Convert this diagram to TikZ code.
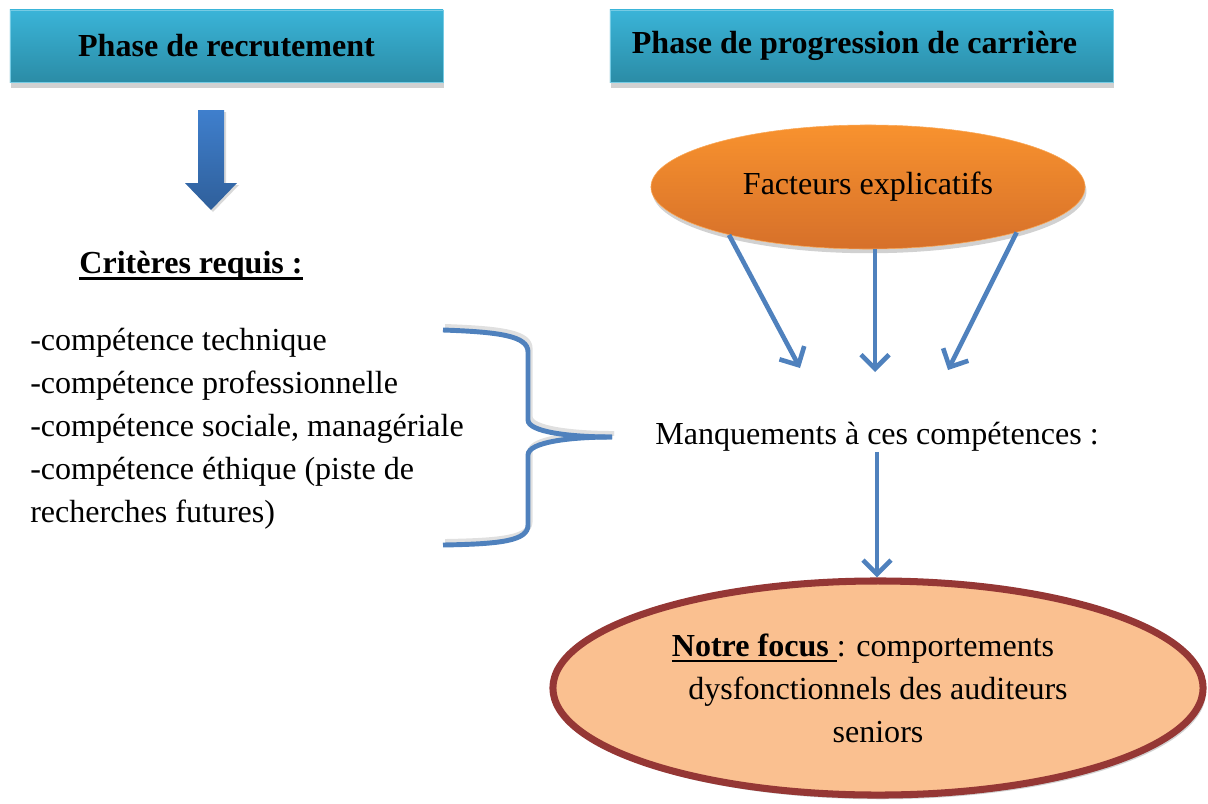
\documentclass[tikz,border=0pt]{standalone}
\usepackage{fontspec}
\setmainfont{Liberation Serif}
\usetikzlibrary{shapes.geometric, arrows.meta, shadows}
\definecolor{tealtop}{HTML}{3AB4D8}
\definecolor{tealbot}{HTML}{2B8CA6}
\definecolor{bluetop}{HTML}{3F7FCD}
\definecolor{bluebot}{HTML}{2F5F9A}
\definecolor{linkblue}{HTML}{4F81BD}
\definecolor{orgtop}{HTML}{F8922E}
\definecolor{orgbot}{HTML}{D6702A}
\definecolor{peach}{HTML}{FAC090}
\definecolor{brick}{HTML}{953735}
\newcommand\thickul[1]{\setbox0\hbox{#1}\rlap{\rule[-4.5pt]{\wd0}{2pt}}\box0}

\begin{document}
\begin{tikzpicture}[x = 0.025cm, y = -0.025cm,
	every node/.style = {font = \fontsize{22.8}{30.6}\selectfont, inner sep = 0pt},
	phase/.style = {draw = tealtop!70, top color = tealtop, bottom color = tealbot, minimum width = 10.825cm, minimum height = 1.8cm, font = \fontsize{22.8}{30.6}\selectfont\bfseries, drop shadow = {shadow xshift = 1pt, shadow yshift = -4pt, fill = black!18, opacity = 1}},
	oval/.style = {ellipse, draw = orgtop!80, top color = orgtop, bottom color = orgbot, minimum width = 10.85cm, minimum height = 3.1cm, drop shadow = {shadow xshift = 1pt, shadow yshift = -3pt, fill = black!18, opacity = 1}},
	arr/.style = {draw = linkblue, line width = 3.3pt, -{Straight Barb[length = 10pt, width = 20pt, line width = 3.3pt]}}]
	\useasboundingbox (0,0) rectangle (1208,803);

	% en-tetes
	\node[phase] (rec) at (226.5,46) {Phase de recrutement\\[-4pt]};
	\node[phase, minimum width = 12.575cm] (prog) at (861.5,46) {\hspace*{-0.35cm}Phase de progression de carri\`ere};

	% fleche bloc
	\fill[black!15] (200,112) -- (226,112) -- (226,185) -- (239,185) -- (213,212) -- (187,185) -- (200,185) -- cycle;
	\shade[top color = bluetop, bottom color = bluebot] (198,110) -- (224,110) -- (224,183) -- (237,183) -- (211,210) -- (185,183) -- (198,183) -- cycle;

	% partie gauche
	\node[font = \fontsize{22.8}{30.6}\selectfont\bfseries] (crit) at (191,266) {\thickul{Crit\`eres requis :}};
	\node[anchor = west, align = left] (list) at (30,429) {-comp\'etence technique\\-comp\'etence professionnelle\\-comp\'etence sociale, manag\'eriale\\-comp\'etence \'ethique (piste de\\recherches futures)};

	% partie droite
	\node[oval] (fact) at (868,187) {Facteurs explicatifs};
	\node (manq) at (877,437) {Manquements \`a ces comp\'etences :};
	\node[ellipse, draw = brick, line width = 5pt, fill = peach, minimum width = 16.25cm, minimum height = 5.35cm, align = center, drop shadow = {shadow xshift = 2pt, shadow yshift = -3pt, fill = black!18, opacity = 1}] (focus) at (878,688) {\thickul{\textbf{Notre focus }}: comportements\hspace*{0.75cm}\\dysfonctionnels des auditeurs\\seniors};

	\coordinate (ta) at (800,368);
	\coordinate (tb) at (875,372);
	\coordinate (tc) at (948,370);
	\coordinate (tip) at (612,437);

	% accolade
	\draw[black!12, line width = 3.5pt, xshift = 1.5, yshift = 2.5] (443,330) .. controls (500,332) and (528,336) .. (528,352) -- (528,420) .. controls (528,432) and (570,437) .. (612,437);
	\draw[black!12, line width = 3.5pt, xshift = 1.5, yshift = 2.5] (612,437) .. controls (570,437) and (528,442) .. (528,455) -- (528,525) .. controls (528,541) and (500,544) .. (443,545);
	\draw[linkblue, line width = 3.5pt] (443,330) .. controls (500,332) and (528,336) .. (528,352) -- (528,420) .. controls (528,432) and (570,437) .. (tip);
	\draw[linkblue, line width = 3.5pt] (tip) .. controls (570,437) and (528,442) .. (528,455) -- (528,525) .. controls (528,541) and (500,544) .. (443,545);

	% fleches
	\draw[arr] (fact.199) -- (ta);
	\draw[arr] (fact.south -| tb) -- (tb);
	\draw[arr] (fact.343) -- (tc);
	\draw[arr] (manq.south) -- (manq.south |- focus.north);
\end{tikzpicture}
\end{document}
